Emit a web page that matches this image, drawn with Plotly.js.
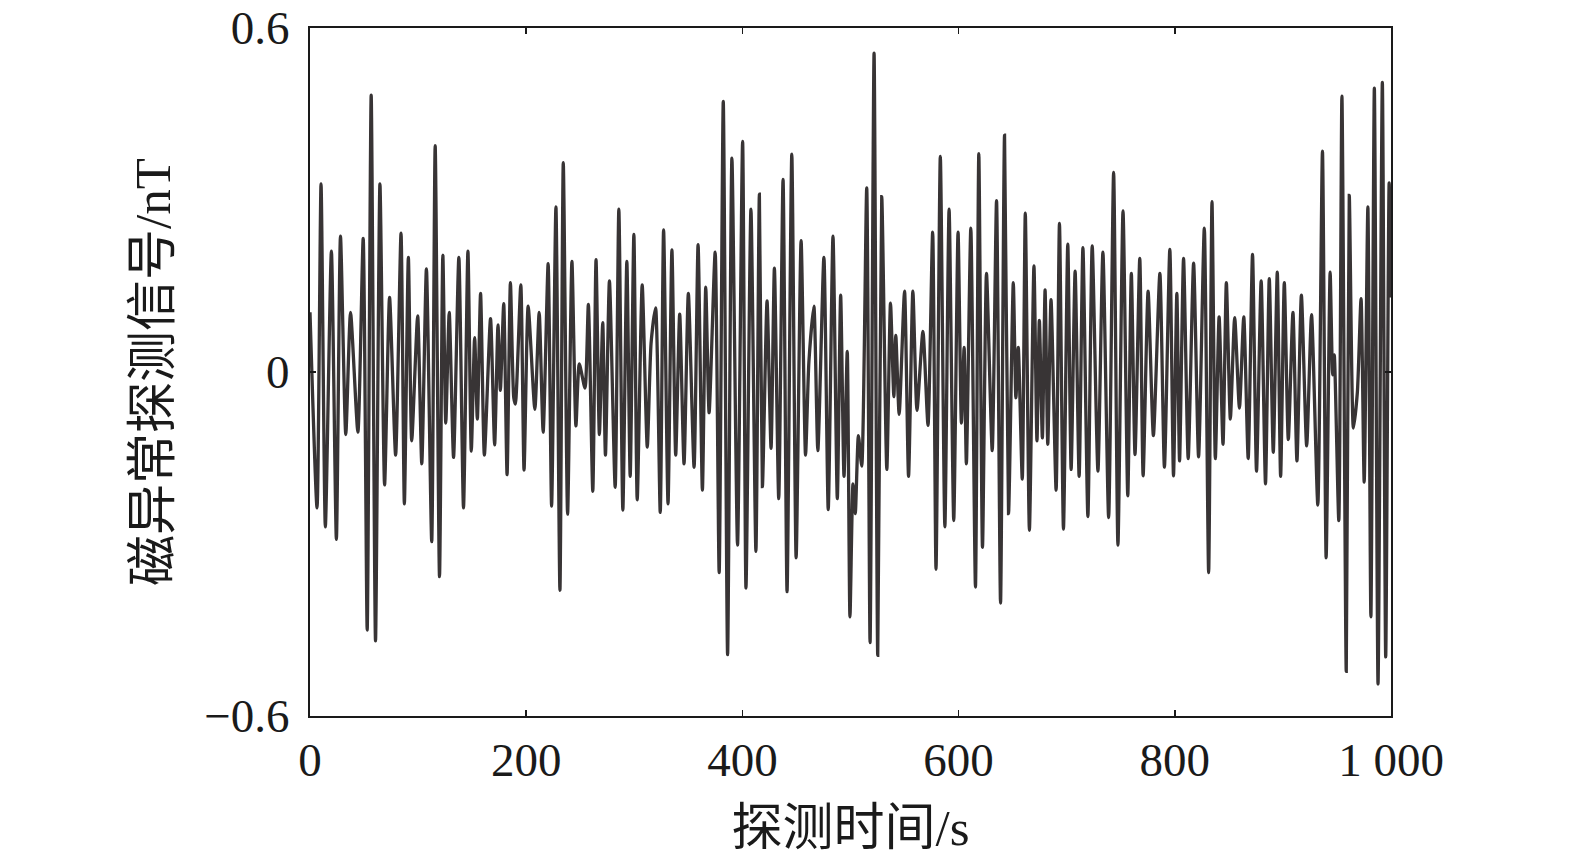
<!DOCTYPE html>
<html>
<head>
<meta charset="utf-8">
<script src="https://cdn.plot.ly/plotly-3.0.1.min.js"></script>
<style>html,body{margin:0;padding:0;background:#fff;}#chart{width:1575px;height:858px;}</style>
</head>
<body>
<div id="chart"></div>
<script>
// Detection time (s) at the read-off turning points of the signal
const timeS = [
0,6.5,10.2,14.2,19.8,24.4,28.2,33.1,37.5,44.3,49.2,52.9,56.6,60.6,64.7,69,73.6,79.2,
84.2,87.3,91,94.1,99.6,103.4,107.7,112.6,115.8,119.8,122.9,125.6,128.8,132.8,137.7,142,146.1,149.2,152.3,154.8,157.8,161.3,
167,170.8,173.9,176.1,179.2,182.3,185.4,188.5,190,195,198,201.8,208,212,215.7,220.3,223.5,227.5,231.2,234.3,238.3,242.3,246,249.1,
254.4,257.5,261.6,264.6,267.7,270.8,273.3,277,282.3,285.7,289.4,293.1,296.2,299.6,302.7,307.3,312,315.5,319.7,324,327.1,331.2,334.8,
338.3,342,346,350,355.3,359,363,366.1,369.2,374.8,378.5,382.3,386.3,390.3,395.5,400.2,403.3,407.9,412.5,415.7,418.5,
422.8,426.5,429.6,433.6,437.6,441.3,445.7,449.7,454.3,458.4,461.5,466.1,469.8,475.4,479.4,483.8,487.8,490.9,494,497,499.5,
502.3,504.4,507.3,510.4,515,518.1,521.8,525.2,528.9,533.6,537,540.1,541.9,545,550,553.7,557.7,561.5,567,571.7,576,579.1,583.1,587.3,
591.2,595.5,599.5,602.6,605.1,607.2,611.3,615.6,618.7,622.1,625.8,631.1,635.1,638.8,642.5,646.2,650.6,653,655.2,658.9,661.7,665.5,669.7,672.5,
674.7,677.5,680,682.5,685.5,690.2,693.3,697,701,704.1,707.8,711.5,715,719.6,723.6,728.9,733.5,738.8,743.4,747.4,752.1,756.5,
759.8,763.2,767.6,770.7,775.3,780.2,786.2,790.4,795.4,798.8,801.9,804.4,808.1,812.4,817.4,822,827.3,831.3,834.4,837.5,841,
844.6,847.7,851.4,855.4,859.8,863.8,867.9,871.9,875.6,879.9,883.9,887.4,891.1,894.8,897.9,901.3,905,909.3,913,917.1,922,926.5,
932.3,936.6,940,943.7,946,947.5,951.7,954.6,958.6,961.4,965.2,968.9,972.3,975.2,978.6,981.4,984.6,988,992,995.1,998.3,1000
];
// Magnetic anomaly detection signal (nT)
const signalNT = [
0.104,-0.237,0.328,-0.27,0.211,-0.292,0.237,-0.109,0.104,-0.105,0.233,-0.45,0.483,-0.469,0.328,-0.197,0.13,-0.145,
0.242,-0.23,0.2,-0.12,0.098,-0.16,0.18,-0.296,0.395,-0.357,0.204,-0.089,0.104,-0.149,0.2,-0.237,0.211,-0.138,0.06,-0.082,0.137,-0.145,
0.093,-0.127,0.082,-0.032,0.119,-0.179,0.156,-0.045,-0.056,0.152,-0.171,0.115,-0.065,0.104,-0.105,0.189,-0.234,0.288,-0.381,0.365,-0.248,0.193,-0.094,0.014,
-0.028,0.118,-0.208,0.196,-0.109,0.086,-0.145,0.159,-0.201,0.284,-0.241,0.193,-0.182,0.24,-0.223,0.152,-0.131,0.05,0.112,-0.245,0.248,-0.23,0.213,
-0.145,0.101,-0.16,0.137,-0.166,0.222,-0.206,0.148,-0.071,0.209,-0.35,0.472,-0.493,0.373,-0.302,0.402,-0.377,0.284,-0.313,0.31,-0.2,
0.124,-0.133,0.181,-0.221,0.336,-0.383,0.38,-0.324,0.229,-0.145,0.017,0.115,-0.137,0.2,-0.24,0.237,-0.221,0.134,-0.182,0.036,-0.427,
-0.195,-0.247,-0.111,-0.164,0.321,-0.472,0.556,-0.494,0.306,-0.17,0.12,-0.043,0.064,-0.074,0.141,-0.182,0.141,-0.067,0.071,-0.093,0.244,-0.344,0.376,-0.27,
0.284,-0.259,0.244,-0.089,0.043,-0.16,0.251,-0.375,0.381,-0.306,0.172,-0.137,0.299,-0.403,0.413,-0.247,0.156,-0.045,0.043,-0.187,0.277,-0.276,0.185,-0.12,
0.09,-0.115,0.143,-0.126,0.126,-0.206,0.259,-0.274,0.223,-0.17,0.176,-0.182,0.217,-0.252,0.22,-0.173,0.209,-0.254,0.348,-0.302,0.281,-0.216,
0.172,-0.144,0.198,-0.181,0.141,-0.111,0.172,-0.166,0.214,-0.181,0.137,-0.155,0.198,-0.151,0.19,-0.148,0.251,-0.35,0.297,-0.151,0.096,
-0.126,0.156,-0.082,0.095,-0.063,0.096,-0.151,0.205,-0.173,0.159,-0.195,0.163,-0.14,0.174,-0.182,0.156,-0.118,0.104,-0.155,0.134,-0.129,0.1,
-0.232,0.385,-0.324,0.174,-0.005,0.03,-0.259,0.481,-0.522,0.308,-0.098,-0.035,0.128,-0.192,0.288,-0.427,0.495,-0.544,0.505,-0.497,0.33,0.13
];
const xTickVals = [0,200,400,600,800,1000];
const xTickText = ["0","200","400","600","800","1 000"];
const yTickVals = [-0.6,0,0.6];
const yTickText = ["\u22120.6","0","0.6"];

const fontFam = '"Liberation Serif","Noto Sans CJK SC",serif';
const trace = {
  x: timeS, y: signalNT, type: 'scatter', mode: 'lines',
  line: {color: '#383435', width: 3.3, shape: 'spline', smoothing: 0.6},
  hoverinfo: 'skip'
};
const layout = {
  width: 1575, height: 858,
  margin: {l: 310, r: 184, t: 28, b: 142},
  paper_bgcolor: '#ffffff', plot_bgcolor: '#ffffff',
  showlegend: false,
  font: {family: fontFam, color: '#1a1a1a', size: 47},
  xaxis: {
    range: [0, 1000], showgrid: false, zeroline: false,
    showline: true, linecolor: '#1a1a1a', linewidth: 2, mirror: 'ticks',
    ticks: 'inside', ticklen: 6, tickwidth: 1.5, tickcolor: '#1a1a1a',
    tickvals: xTickVals, ticktext: xTickText,
    tickfont: {family: fontFam, size: 47, color: '#1a1a1a'},
    ticklabelstandoff: 2,
    title: {text: '探测时间/s', font: {family: fontFam, size: 51, color: '#1a1a1a'}, standoff: 24}
  },
  yaxis: {
    range: [-0.6, 0.6], showgrid: false, zeroline: false,
    showline: true, linecolor: '#1a1a1a', linewidth: 2, mirror: 'ticks',
    ticks: 'inside', ticklen: 6, tickwidth: 1.5, tickcolor: '#1a1a1a',
    tickvals: yTickVals, ticktext: yTickText,
    tickfont: {family: fontFam, size: 47, color: '#1a1a1a'},
    ticklabelstandoff: 9,
    title: {text: '磁异常探测信号/nT', font: {family: fontFam, size: 51, color: '#1a1a1a'}, standoff: 17}
  }
};
Plotly.newPlot('chart', [trace], layout, {staticPlot: true, displayModeBar: false});
</script>
</body>
</html>
